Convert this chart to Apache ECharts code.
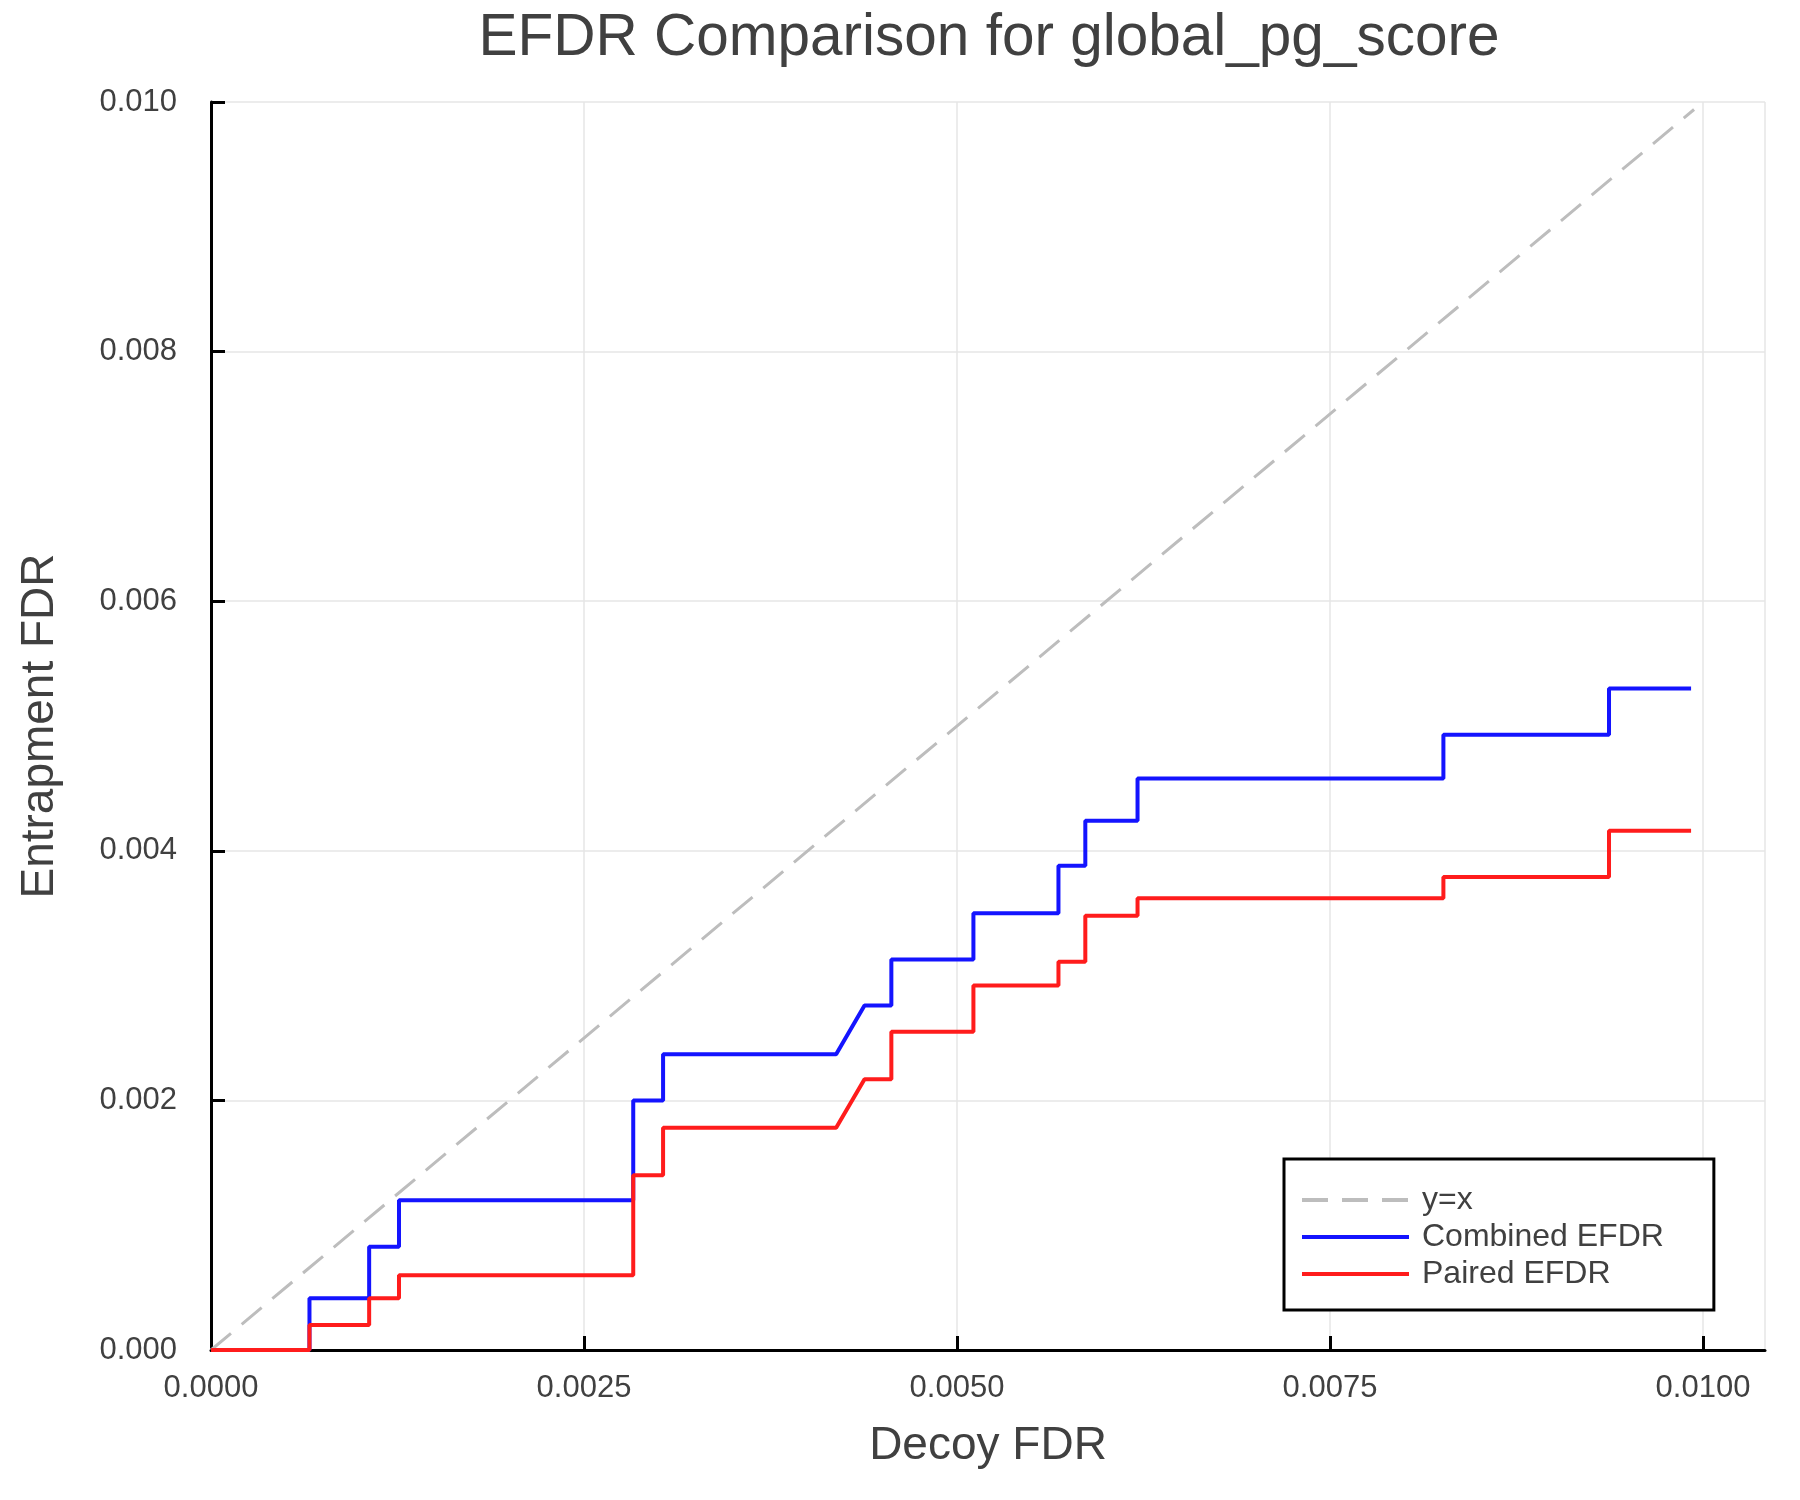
<!DOCTYPE html>
<html>
<head>
<meta charset="utf-8">
<title>EFDR Comparison</title>
<script src="https://cdn.jsdelivr.net/npm/echarts@6/dist/echarts.min.js"></script>
<style>
  html, body { margin: 0; padding: 0; background: #fff; }
  #chart { width: 1800px; height: 1500px; }
</style>
</head>
<body>
<div id="chart"></div>
<script>
// decoy FDR at each vertex of the step curves (shared by both curves)
const decoyFdr = [0, 0.00066, 0.00066, 0.00106, 0.00106, 0.00126, 0.00126, 0.00283, 0.00283,
    0.00303, 0.00303, 0.00419, 0.00438, 0.00456, 0.00456, 0.00511, 0.00511, 0.00568, 0.00568,
    0.00586, 0.00586, 0.00621, 0.00621, 0.00826, 0.00826, 0.00937, 0.00937, 0.00992];

// entrapment FDR, combined method
const combinedEfdr = [0, 0, 0.000414, 0.000414, 0.000828, 0.000828, 0.0012, 0.0012, 0.002,
    0.002, 0.00237, 0.00237, 0.00276, 0.00276, 0.00313, 0.00313, 0.0035, 0.0035, 0.00388,
    0.00388, 0.00424, 0.00424, 0.00458, 0.00458, 0.00493, 0.00493, 0.0053, 0.0053];

// entrapment FDR, paired method
const pairedEfdr = [0, 0, 0.0002, 0.0002, 0.000414, 0.000414, 0.000598, 0.000598, 0.0014,
    0.0014, 0.00178, 0.00178, 0.00217, 0.00217, 0.00255, 0.00255, 0.00292, 0.00292, 0.00311,
    0.00311, 0.00348, 0.00348, 0.00362, 0.00362, 0.00379, 0.00379, 0.00416, 0.00416];

// reference diagonal y = x
const diagonal = [0, 0.00994];

const xTicks = [0, 0.0025, 0.005, 0.0075, 0.01];
const yTicks = [0, 0.002, 0.004, 0.006, 0.008, 0.01];

const fontFamily = '"Liberation Sans", Helvetica, Arial, sans-serif';
const textColor = '#404040';

function pairs(xs, ys) {
    return xs.map(function (x, i) { return [x, ys[i]]; });
}

var myChart = echarts.init(document.getElementById('chart'));

var option = {
    backgroundColor: '#ffffff',
    animation: false,
    textStyle: { fontFamily: fontFamily },
    title: {
        text: 'EFDR Comparison for global_pg_score',
        left: 984,
        textAlign: 'center',
        top: 4,
        textStyle: {
            fontSize: 58.5,
            fontWeight: 'normal',
            color: textColor,
            fontFamily: fontFamily
        }
    },
    grid: {
        left: 211,
        right: 35,
        top: 102,
        bottom: 150
    },
    legend: {
        orient: 'vertical',
        left: 1284,
        top: 1159,
        padding: [25, 50, 20, 16],
        itemWidth: 107,
        itemHeight: 32,
        itemGap: 5,
        backgroundColor: '#ffffff',
        borderColor: '#000000',
        borderWidth: 3,
        borderRadius: 0,
        itemStyle: { opacity: 0 },
        lineStyle: { width: 4 },
        textStyle: {
            fontSize: 32,
            color: textColor,
            fontFamily: fontFamily,
            padding: [0, 0, 0, 8]
        },
        data: ['y=x', 'Combined EFDR', 'Paired EFDR']
    },
    xAxis: {
        type: 'value',
        min: 0,
        max: 0.0104155,
        interval: 0.0025,
        name: 'Decoy FDR',
        nameLocation: 'middle',
        nameGap: 73,
        nameTextStyle: { fontSize: 46, color: textColor, fontFamily: fontFamily },
        axisLine: { show: true, onZero: false, lineStyle: { color: '#000', width: 3 } },
        axisTick: { show: true, inside: true, length: 14, lineStyle: { color: '#000', width: 3 } },
        axisLabel: {
            fontSize: 31,
            color: textColor,
            margin: 23,
            showMaxLabel: false,
            formatter: function (v) {
                return xTicks.some(function (t) { return Math.abs(t - v) < 1e-9; }) ? v.toFixed(4) : '';
            }
        },
        splitLine: { show: true, lineStyle: { color: '#e6e6e6', width: 1.5 } }
    },
    yAxis: {
        type: 'value',
        min: 0,
        max: 0.01,
        interval: 0.002,
        name: 'Entrapment FDR',
        nameLocation: 'middle',
        nameGap: 148,
        nameTextStyle: { fontSize: 46, color: textColor, fontFamily: fontFamily },
        axisLine: { show: true, onZero: false, lineStyle: { color: '#000', width: 3 } },
        axisTick: { show: true, inside: true, length: 14, lineStyle: { color: '#000', width: 3 } },
        axisLabel: {
            fontSize: 31,
            color: textColor,
            margin: 34,
            formatter: function (v) {
                return yTicks.some(function (t) { return Math.abs(t - v) < 1e-9; }) ? v.toFixed(3) : '';
            }
        },
        splitLine: { show: true, lineStyle: { color: '#e6e6e6', width: 1.5 } }
    },
    series: [
        {
            name: 'y=x',
            type: 'line',
            data: pairs(diagonal, diagonal),
            showSymbol: false,
            symbol: 'none',
            lineStyle: { color: '#bdbdbd', width: 3, type: [26, 14] },
            itemStyle: { color: '#bdbdbd' },
            z: 2
        },
        {
            name: 'Combined EFDR',
            type: 'line',
            data: pairs(decoyFdr, combinedEfdr),
            showSymbol: false,
            symbol: 'none',
            lineStyle: { color: '#1414ff', width: 4 },
            itemStyle: { color: '#1414ff' },
            z: 3
        },
        {
            name: 'Paired EFDR',
            type: 'line',
            data: pairs(decoyFdr, pairedEfdr),
            showSymbol: false,
            symbol: 'none',
            lineStyle: { color: '#ff1c1c', width: 4 },
            itemStyle: { color: '#ff1c1c' },
            z: 4
        }
    ]
};

myChart.setOption(option);
</script>
</body>
</html>
